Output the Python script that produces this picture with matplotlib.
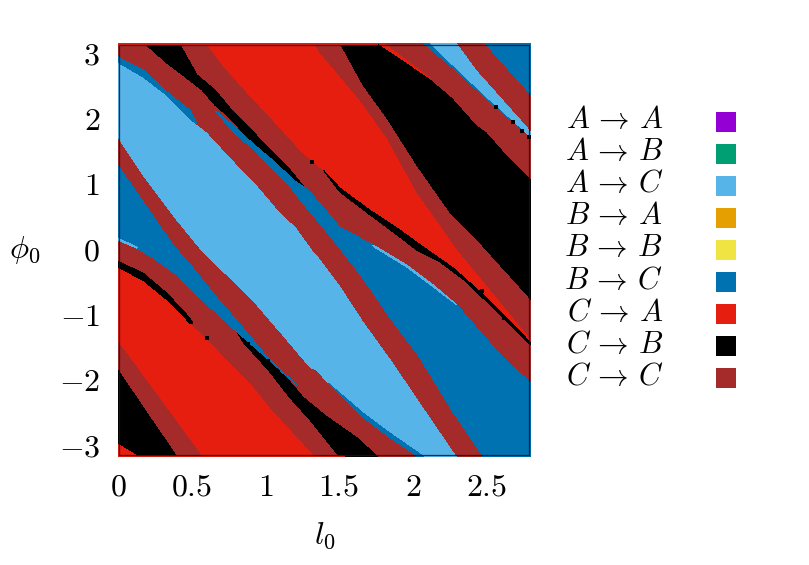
import matplotlib
matplotlib.use("Agg")
import matplotlib.pyplot as plt
from matplotlib.patches import Rectangle

plt.rcParams['mathtext.fontset'] = 'cm'
plt.rcParams['font.family'] = 'serif'
plt.rcParams['font.serif'] = ['cmr10', 'DejaVu Serif']
plt.rcParams['axes.formatter.use_mathtext'] = True

SKY, BLUE, RED, BLACK, BROWN = '#56B4E9', '#0072B2', '#E51E10', '#000000', '#A52A2A'

legend_labels = [r'$A\,\rightarrow\,A$', r'$A\,\rightarrow\,B$', r'$A\,\rightarrow\,C$',
                 r'$B\,\rightarrow\,A$', r'$B\,\rightarrow\,B$', r'$B\,\rightarrow\,C$',
                 r'$C\,\rightarrow\,A$', r'$C\,\rightarrow\,B$', r'$C\,\rightarrow\,C$']
legend_colors = ['#9400D3', '#009E73', SKY, '#E69F00', '#F0E442', BLUE, RED, BLACK, BROWN]

x_ticks = [0, 0.5, 1, 1.5, 2, 2.5]
x_tick_labels = ['$0$', '$0.5$', '$1$', '$1.5$', '$2$', '$2.5$']
y_ticks = [-3, -2, -1, 0, 1, 2, 3]
y_tick_labels = ['$-3$', '$-2$', '$-1$', '$0$', '$1$', '$2$', '$3$']

# Region boundaries: (l0 values, phi0 values)
tri_l = [0, 0.17]; tri_p = [-2.96, -3.19]
b1_l = [0, 0.17, 0.407, 0.42]; b1_p = [-1.81, -2.38, -3.16, -3.2]
r1_l = [0, 0.59]; r1_p = [-1.385, -3.2]
c3_l = [0, .17, .332, .488, .604, .692, .896, 1.031, 1.316, 1.36]
c3_p = [-.27, -.47, -.77, -1.125, -1.355, -1.57, -2.03, -2.41, -3.11, -3.205]
s1u_l = [-.02, .17, .332, .488, .509]; s1u_p = [-.16, -.36, -.67, -1.05, -1.13]
s1l_l = [-.02, .17, .332, .488, .509]; s1l_p = [-.25, -.47, -.77, -1.125, -1.13]
s2l_l = [.807, .848, 1.031, 1.167, 1.303, 1.493, 1.506]
s2l_p = [-1.26, -1.415, -1.875, -2.27, -2.61, -3.145, -3.205]
s2u_l = [.807, .943, 1.099, 1.255, 1.418, 1.621, 1.757, 1.777]
s2u_p = [-1.26, -1.51, -1.84, -2.26, -2.56, -2.88, -3.16, -3.205]
w1l_l = [-.02, .129, .237, .40, .536, .807, 1.079, 1.214]
w1l_p = [.16, .02, -.13, -.39, -.70, -1.26, -1.80, -2.07]
w1u_l = [-.02, .373, .509, .672, .848, .984, 1.119, 1.214]
w1u_p = [1.35, .07, -.28, -.74, -1.20, -1.57, -1.89, -2.07]
w1s_l = [-.02, .129]; w1s_p = [.19, .04]
p1_l = [0, .17, .40, .556, .739, .943, 1.119, 1.303, 1.35, 1.43, 1.459, 1.642, 1.845, 2.028, 2.05]
p1_p = [1.72, 1.14, .45, .02, -.39, -.85, -1.31, -1.80, -1.85, -2.05, -2.12, -2.53, -2.88, -3.16, -3.205]
s3u_l = [1.43, 1.506, 1.662, 1.845, 2.069, 2.09]
s3u_p = [-2.05, -2.20, -2.50, -2.81, -3.16, -3.205]
c7_l = [0, .17, .332, .488, .604, .78, .943, 1.079, 1.214, 1.323, 1.37, 1.506, 1.662, 1.866, 2.049, 2.30, 2.313]
c7_p = [2.87, 2.64, 2.36, 2.0, 1.80, 1.37, .99, .63, .33, -.01, -.13, -.54, -1.08, -1.72, -2.33, -3.16, -3.205]
s4u_l = [-.02, .17, .332, .488, .536]; s4u_p = [2.97, 2.75, 2.41, 2.13, 1.93]
s4l_l = [-.02, .17, .332, .488, .536]; s4l_p = [2.89, 2.64, 2.36, 2.0, 1.93]
s5l_l = [.163, .332, .468, .57, .658, .76, .916, 1.052, 1.194, 1.262]
s5l_p = [3.19, 2.85, 2.62, 2.44, 2.21, 2.01, 1.62, 1.36, 1.06, .96]
s5u_l = [.407, .536, .658, .78, .916, 1.052, 1.167, 1.262]
s5u_p = [3.19, 2.67, 2.44, 2.11, 1.80, 1.49, 1.22, .96]
w2l_l = [.658, .78, .916, 1.052, 1.167, 1.282, 1.404, 1.486, 1.662, 1.866, 2.049, 2.273, 2.476, 2.49, 2.9]
w2l_p = [2.13, 1.80, 1.54, 1.22, .96, .63, .30, .07, -.44, -1.11, -1.66, -2.49, -3.16, -3.205, -3.205]
w2u_l = [.658, .78, .916, 1.052, 1.194, 1.289, 1.391, 1.506, 1.73, 1.961, 2.137, 2.30, 2.476, 2.612, 2.795, 2.9]
w2u_p = [2.13, 1.905, 1.62, 1.36, 1.06, .91, .65, .34, .07, -.24, -.54, -.85, -1.31, -1.66, -2.03, -2.15]
w2s_l = [1.73, 1.961, 2.137, 2.30]; w2s_p = [.05, -.27, -.57, -.85]
r2_l = [.59, .712, .862, 1.052, 1.255, 1.391, 1.506, 1.71, 1.893, 2.083, 2.273, 2.503, 2.639, 2.782, 2.83]
r2_p = [3.19, 2.82, 2.44, 1.98, 1.48, 1.22, .94, .60, .33, .02, -.28, -.74, -1.05, -1.385, -1.49]
s6l_l = [1.391, 1.506, 1.71, 1.866, 2.028, 2.185, 2.368, 2.544, 2.775, 2.83]
s6l_p = [1.22, .88, .53, .27, -.01, -.19, -.50, -.895, -1.415, -1.5]
c11_l = [1.323, 1.37, 1.642, 1.825, 2.028, 2.307, 2.782, 2.83]
c11_p = [3.19, 3.02, 2.29, 1.71, .88, -.01, -1.31, -1.43]
c12_l = [1.499, 1.662, 1.825, 2.028, 2.252, 2.469, 2.829]
c12_p = [3.19, 2.52, 2.01, 1.29, .57, .07, -.83]
c13_l = [1.744, 1.934, 2.117, 2.273, 2.436, 2.503, 2.639, 2.829]
c13_p = [3.19, 2.90, 2.62, 2.32, 1.905, 1.80, 1.45, 1.03]
s7u_l = [1.78, 1.95, 2.117]; s7u_p = [3.19, 2.90, 2.62]
c14_l = [2.056, 2.273, 2.436, 2.544, 2.829]; c14_p = [3.19, 2.78, 2.44, 2.21, 1.68]
c15_l = [2.103, 2.32, 2.503, 2.775, 2.829]; c15_p = [3.19, 2.72, 2.33, 1.78, 1.66]
c16_l = [2.293, 2.436, 2.782, 2.829]; c16_p = [3.19, 2.75, 1.875, 1.75]
c17_l = [2.476, 2.829]; c17_p = [3.19, 2.30]

# Isolated black specks
speck_l = [1.316, .604, 2.564, 2.68, 2.74, 2.79, 2.47, 2.62, .88, 1.02]
speck_p = [1.34, -1.355, 2.18, 1.95, 1.81, 1.72, -.63, -1.05, -1.45, -1.70]

W, H = 809, 565
fig = plt.figure(figsize=(W / 100, H / 100), dpi=100)
top_px, bot_px, left_px, right_px = 43, 456.5, 118, 531
ax = fig.add_axes([left_px / W, 1 - bot_px / H, (right_px - left_px) / W, (bot_px - top_px) / H])
ax.set_xlim(0, 2.802)
ax.set_ylim(-3.167, 3.16)
ax.set_facecolor(RED)

XL, XR, YT = -0.1, 3.0, 3.4


def above(ls, ps, color):
    """Fill everything to the upper right of a boundary curve."""
    xs = list(ls) + [XR, XR, XL, XL]
    ys = list(ps) + [ps[-1], YT, YT, ps[0]]
    ax.fill(xs, ys, color=color, lw=0, antialiased=False)


def between(ll, lp, ul, up, color):
    """Fill the closed area between two boundary curves."""
    ax.fill(list(ll) + list(ul)[::-1], list(lp) + list(up)[::-1], color=color, lw=0, antialiased=False)


above(tri_l, tri_p, BLACK)
above(b1_l, b1_p, BROWN)
above(r1_l, r1_p, RED)
above(c3_l, c3_p, BROWN)
between(s1l_l, s1l_p, s1u_l, s1u_p, BLACK)
between(s2l_l, s2l_p, s2u_l, s2u_p, BLACK)
between(w1l_l, w1l_p, w1u_l, w1u_p, BLUE)
between(w1l_l[:2], w1l_p[:2], w1s_l, w1s_p, SKY)
above(p1_l, p1_p, SKY)
between(p1_l[9:], p1_p[9:], s3u_l, s3u_p, BLUE)
above(c7_l, c7_p, BROWN)
between(s4l_l, s4l_p, s4u_l, s4u_p, BLUE)
between(s5l_l, s5l_p, s5u_l, s5u_p, BLACK)
between(w2l_l, w2l_p, w2u_l, w2u_p, BLUE)
between(w2s_l, w2s_p, w2u_l[8:12], w2u_p[8:12], SKY)
above(r2_l, r2_p, RED)
between(s6l_l, s6l_p, r2_l[5:], r2_p[5:], BLACK)
above(c11_l, c11_p, BROWN)
above(c12_l, c12_p, BLACK)
above(c13_l, c13_p, BROWN)
between(c13_l[:3], c13_p[:3], s7u_l, s7u_p, RED)
above(c14_l, c14_p, BLUE)
above(c15_l, c15_p, SKY)
above(c16_l, c16_p, BROWN)
above(c17_l, c17_p, BLUE)
ax.scatter(speck_l, speck_p, marker='s', s=12, color=BLACK, linewidths=0)
# Outermost rows of the map, outside the frame
ax.axhspan(-3.2, -3.147, xmin=0, xmax=0.55, color=RED, lw=0)
ax.axhspan(3.135, 3.2, xmin=0, xmax=0.63, color=RED, lw=0)

ax.set_xticks(x_ticks, x_tick_labels)
ax.set_yticks(y_ticks, y_tick_labels)
ax.tick_params(length=0, labelsize=23, pad=13)
for s in ax.spines.values():
    s.set_visible(False)
fx0, fx1 = 0.5 / 413, 411 / 413
fy0, fy1 = 1.8 / 413.5, 411.8 / 413.5
ax.add_patch(Rectangle((fx0, fy0), fx1 - fx0, fy1 - fy0, transform=ax.transAxes, fill=False,
                       edgecolor='#151515', linewidth=0.9, alpha=0.85, zorder=10))
ax.set_xlabel(r'$l_0$', fontsize=23, labelpad=13)
ax.set_ylabel(r'$\phi_0$', fontsize=23, rotation=0, va='center', ha='center')
ax.yaxis.set_label_coords(-0.225, 0.5)

# Legend column
leg = fig.add_axes([0, 0, 1, 1], frameon=False)
leg.set_xlim(0, W)
leg.set_ylim(H, 0)
leg.set_xticks([])
leg.set_yticks([])
for i, (lab, col) in enumerate(zip(legend_labels, legend_colors)):
    leg.scatter([726], [121.5 + 32.1 * i], marker='s', s=207, color=col, linewidths=0)
    leg.text(663, 128 + 32.1 * i, lab, ha='right', va='baseline', fontsize=22)

fig.savefig('out.png', dpi=100)
